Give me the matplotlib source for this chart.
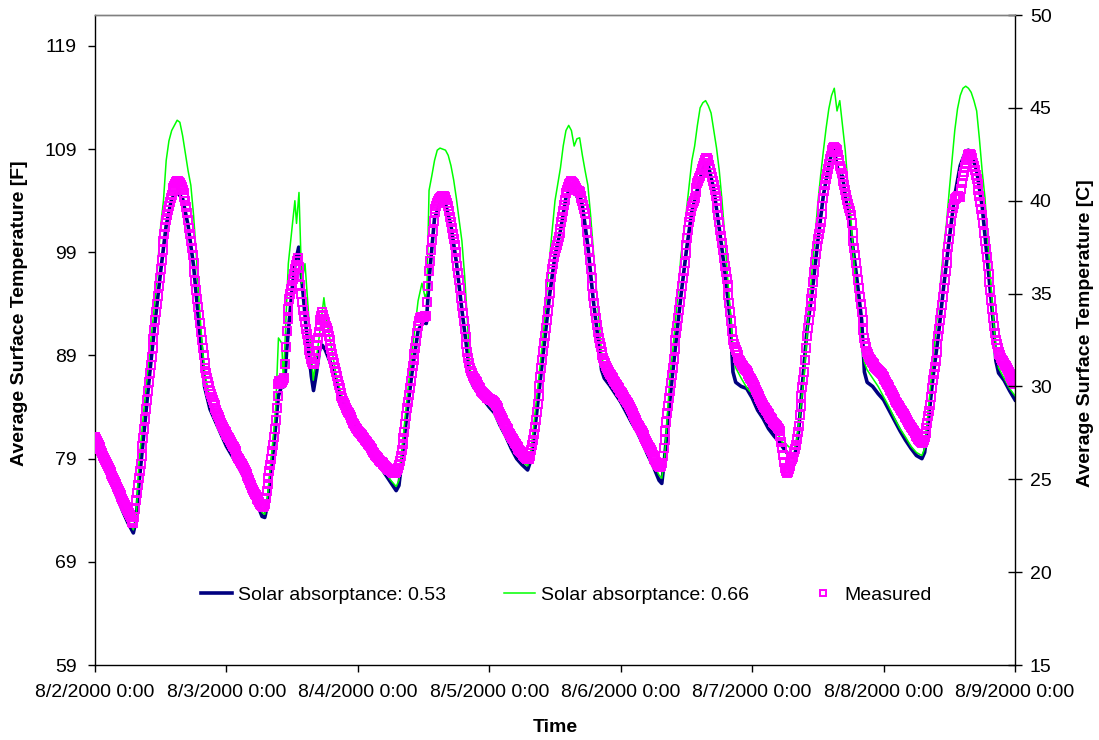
import numpy as np
import matplotlib
matplotlib.use("Agg")
import matplotlib.pyplot as plt

plt.rcParams['font.family'] = ['Liberation Sans', 'DejaVu Sans']

# ---- axis text -------------------------------------------------------------
day_ticks_h = [0, 24, 48, 72, 96, 120, 144, 168]
day_labels = ["8/2/2000 0:00", "8/3/2000 0:00", "8/4/2000 0:00", "8/5/2000 0:00",
              "8/6/2000 0:00", "8/7/2000 0:00", "8/8/2000 0:00", "8/9/2000 0:00"]
f_ticks = [59, 69, 79, 89, 99, 109, 119]
c_ticks = [15, 20, 25, 30, 35, 40, 45, 50]

# ---- measured surface temperature [F], every 10 min from 8/2 0:00 ----------
# (one row = two hours)
measured_d1 = [
    81.1, 80.9, 80.7, 80.5, 80.3, 80.1, 79.9, 79.7, 79.5, 79.3, 79.1, 78.9,
    78.7, 78.5, 78.3, 78.1, 77.9, 77.7, 77.5, 77.3, 77.1, 76.9, 76.7, 76.5,
    76.3, 76.1, 75.9, 75.7, 75.5, 75.3, 75.1, 74.9, 74.7, 74.5, 74.3, 74.1,
    73.9, 73.7, 73.5, 73.3, 73.1, 72.9, 72.8, 73.3, 74.1, 75.0, 75.7, 76.4,
    77.1, 77.8, 78.5, 79.3, 80.2, 81.0, 81.9, 82.8, 83.8, 84.7, 85.6, 86.4,
    87.3, 88.1, 88.9, 89.7, 90.6, 91.5, 92.4, 93.2, 94.0, 94.8, 95.7, 96.5,
    97.4, 98.3, 99.2, 100.1, 100.8, 101.5, 102.1, 102.6, 103.1, 103.5, 103.9, 104.3,
    104.6, 104.9, 105.2, 105.4, 105.6, 105.8, 105.9, 105.9, 105.8, 105.7, 105.5, 105.3,
    105.0, 104.7, 104.4, 104.0, 103.4, 102.8, 102.1, 101.4, 100.8, 100.1, 99.4, 98.7,
    98.0, 97.1, 96.2, 95.3, 94.5, 93.7, 92.9, 92.1, 91.3, 90.5, 89.7, 89.0,
    88.3, 87.8, 87.3, 86.8, 86.4, 86.0, 85.6, 85.3, 85.0, 84.7, 84.4, 84.2,
    83.9, 83.7, 83.4, 83.2, 83.0, 82.7, 82.5, 82.3, 82.1, 81.9, 81.7, 81.6,
]
measured_d2 = [
    81.4, 81.3, 81.1, 81.0, 80.8, 80.6, 80.4, 80.2, 80.1, 79.9, 79.7, 79.5,
    79.3, 79.1, 79.0, 78.8, 78.6, 78.5, 78.3, 78.1, 77.9, 77.7, 77.5, 77.3,
    77.1, 76.9, 76.6, 76.4, 76.2, 76.0, 75.8, 75.6, 75.5, 75.3, 75.1, 75.0,
    74.8, 74.6, 74.5, 74.4, 74.3, 74.4, 74.6, 75.2, 75.9, 76.5, 77.1, 77.8,
    78.4, 79.0, 79.7, 80.3, 81.1, 81.9, 82.7, 83.9, 85.1, 86.2, 86.5, 86.3,
    86.3, 86.4, 86.6, 86.8, 88.2, 89.8, 91.4, 92.5, 93.5, 94.5, 95.0, 95.4,
    95.8, 96.4, 96.9, 97.4, 97.8, 98.2, 98.4, 97.6, 96.7, 95.8, 95.0, 94.2,
    93.4, 92.8, 92.2, 91.6, 91.1, 90.5, 90.0, 89.5, 89.1, 88.7, 88.4, 88.2,
    88.2, 88.8, 89.4, 90.0, 90.7, 91.3, 91.9, 92.4, 92.8, 93.2, 92.9, 92.5,
    92.2, 91.9, 91.7, 91.4, 90.9, 90.5, 90.0, 89.6, 89.1, 88.7, 88.3, 87.8,
    87.4, 87.0, 86.5, 86.1, 85.8, 85.4, 85.1, 84.9, 84.6, 84.4, 84.2, 83.9,
    83.7, 83.5, 83.4, 83.2, 83.0, 82.9, 82.7, 82.5, 82.4, 82.2, 82.0, 81.9,
]
measured_d3 = [
    81.7, 81.6, 81.5, 81.4, 81.3, 81.2, 81.1, 81.0, 80.8, 80.7, 80.6, 80.4,
    80.3, 80.2, 80.0, 79.9, 79.8, 79.6, 79.5, 79.4, 79.3, 79.2, 79.1, 78.9,
    78.8, 78.7, 78.7, 78.6, 78.5, 78.4, 78.3, 78.2, 78.1, 78.0, 77.9, 77.9,
    77.8, 77.7, 77.7, 77.6, 77.6, 77.6, 77.7, 77.9, 78.1, 78.4, 78.8, 79.3,
    79.8, 80.4, 81.0, 81.6, 82.4, 83.1, 83.9, 84.5, 85.2, 85.8, 86.5, 87.3,
    88.0, 88.6, 89.1, 89.7, 90.4, 91.2, 91.9, 92.3, 92.6, 92.7, 92.7, 92.7,
    92.7, 92.7, 92.8, 92.8, 94.2, 95.7, 97.2, 98.2, 99.2, 100.2, 101.1, 102.0,
    102.9, 103.2, 103.5, 103.8, 104.0, 104.2, 104.3, 104.4, 104.5, 104.5, 104.5, 104.4,
    104.3, 104.1, 103.8, 103.5, 103.0, 102.4, 101.9, 101.4, 100.8, 100.3, 99.7, 99.0,
    98.4, 97.7, 97.0, 96.3, 95.5, 94.6, 93.8, 93.1, 92.3, 91.6, 90.8, 90.1,
    89.3, 88.8, 88.3, 87.8, 87.5, 87.3, 87.0, 86.8, 86.7, 86.5, 86.4, 86.2,
    86.1, 85.9, 85.8, 85.6, 85.5, 85.4, 85.3, 85.2, 85.1, 85.0, 84.9, 84.9,
]
measured_d4 = [
    84.8, 84.8, 84.7, 84.7, 84.6, 84.5, 84.4, 84.2, 84.1, 83.9, 83.7, 83.5,
    83.3, 83.1, 82.9, 82.7, 82.5, 82.4, 82.2, 82.0, 81.9, 81.7, 81.5, 81.4,
    81.2, 81.0, 80.9, 80.7, 80.5, 80.4, 80.2, 80.1, 79.9, 79.8, 79.7, 79.6,
    79.5, 79.4, 79.3, 79.2, 79.1, 79.0, 79.0, 79.0, 79.1, 79.3, 79.8, 80.3,
    80.8, 81.4, 82.1, 82.7, 83.5, 84.3, 85.1, 86.0, 86.9, 87.8, 88.6, 89.4,
    90.2, 90.9, 91.7, 92.4, 93.3, 94.2, 95.1, 95.9, 96.6, 97.4, 97.9, 98.5,
    99.0, 99.4, 99.7, 100.1, 100.5, 100.9, 101.3, 101.9, 102.4, 103.0, 103.6, 104.1,
    104.7, 105.0, 105.3, 105.6, 105.7, 105.8, 105.9, 105.8, 105.7, 105.6, 105.4, 105.2,
    105.0, 104.9, 104.9, 104.8, 104.5, 104.3, 104.0, 103.6, 103.2, 102.8, 101.9, 101.0,
    100.1, 99.2, 98.3, 97.4, 96.5, 95.7, 94.8, 94.1, 93.3, 92.6, 92.0, 91.3,
    90.7, 90.2, 89.8, 89.3, 89.0, 88.8, 88.5, 88.3, 88.0, 87.8, 87.6, 87.4,
    87.2, 87.1, 86.9, 86.8, 86.7, 86.5, 86.4, 86.2, 86.1, 85.9, 85.8, 85.6,
]
measured_d5 = [
    85.5, 85.4, 85.2, 85.1, 85.0, 84.8, 84.7, 84.5, 84.4, 84.2, 84.0, 83.8,
    83.6, 83.4, 83.3, 83.1, 82.9, 82.7, 82.5, 82.3, 82.2, 82.0, 81.8, 81.7,
    81.5, 81.3, 81.1, 80.9, 80.7, 80.5, 80.3, 80.1, 80.0, 79.8, 79.6, 79.4,
    79.2, 79.0, 78.9, 78.7, 78.5, 78.4, 78.3, 78.2, 78.3, 78.6, 79.3, 80.0,
    80.8, 81.7, 82.6, 83.4, 84.1, 84.9, 85.6, 86.3, 87.1, 87.8, 88.7, 89.6,
    90.5, 91.2, 91.9, 92.6, 93.4, 94.2, 95.0, 95.7, 96.5, 97.2, 98.0, 98.9,
    99.7, 100.4, 101.2, 101.9, 102.4, 103.0, 103.5, 103.8, 104.0, 104.3, 104.8, 105.2,
    105.7, 105.9, 106.2, 106.4, 106.7, 107.1, 107.4, 107.7, 107.9, 108.1, 108.1, 108.0,
    107.9, 107.5, 107.1, 106.7, 106.3, 105.9, 105.5, 105.0, 104.5, 104.0, 103.3, 102.6,
    101.9, 101.2, 100.6, 99.9, 99.2, 98.4, 97.7, 97.1, 96.4, 95.8, 94.9, 94.1,
    93.2, 92.3, 91.4, 90.5, 90.1, 89.8, 89.5, 89.3, 89.0, 88.8, 88.6, 88.5,
    88.3, 88.1, 88.0, 87.8, 87.7, 87.6, 87.5, 87.3, 87.2, 87.0, 86.8, 86.7,
]
measured_d6 = [
    86.5, 86.3, 86.1, 85.9, 85.7, 85.5, 85.3, 85.1, 85.0, 84.8, 84.6, 84.4,
    84.2, 84.0, 83.9, 83.7, 83.6, 83.4, 83.3, 83.2, 83.0, 82.9, 82.8, 82.6,
    82.5, 82.4, 82.3, 82.2, 82.0, 81.9, 81.7, 81.2, 80.6, 80.0, 79.4, 78.7,
    78.1, 77.8, 77.6, 77.7, 78.0, 78.3, 78.6, 78.8, 79.0, 79.2, 79.6, 79.9,
    80.3, 80.9, 81.6, 82.2, 83.2, 84.1, 85.1, 85.9, 86.6, 87.4, 88.6, 89.7,
    90.9, 91.7, 92.4, 93.2, 93.8, 94.5, 95.1, 96.1, 97.1, 98.1, 98.8, 99.6,
    100.3, 100.8, 101.4, 101.9, 102.7, 103.5, 104.3, 104.9, 105.5, 106.1, 106.6, 107.1,
    107.6, 108.0, 108.3, 108.7, 108.9, 109.1, 109.2, 109.1, 109.0, 108.9, 108.4, 107.9,
    107.4, 107.1, 106.7, 106.4, 105.9, 105.5, 105.0, 104.6, 104.1, 103.7, 103.3, 103.0,
    102.6, 101.8, 100.9, 100.1, 99.4, 98.7, 98.0, 97.2, 96.3, 95.5, 94.7, 94.0,
    93.2, 92.4, 91.5, 90.7, 90.2, 89.8, 89.3, 89.1, 88.9, 88.7, 88.6, 88.4,
    88.3, 88.2, 88.0, 87.9, 87.8, 87.7, 87.6, 87.5, 87.4, 87.3, 87.2, 87.0,
]
measured_d7 = [
    86.9, 86.7, 86.6, 86.4, 86.2, 86.1, 85.9, 85.7, 85.6, 85.4, 85.2, 85.0,
    84.8, 84.7, 84.5, 84.4, 84.2, 84.1, 83.9, 83.7, 83.6, 83.4, 83.3, 83.1,
    83.0, 82.9, 82.7, 82.6, 82.4, 82.3, 82.1, 82.0, 81.8, 81.7, 81.5, 81.4,
    81.2, 81.1, 80.9, 80.8, 80.7, 80.6, 80.5, 80.6, 80.8, 81.1, 81.5, 82.0,
    82.5, 83.1, 83.6, 84.2, 85.0, 85.8, 86.6, 87.2, 87.9, 88.5, 89.3, 90.1,
    90.9, 91.6, 92.4, 93.1, 93.9, 94.7, 95.5, 96.3, 97.2, 98.0, 98.8, 99.5,
    100.3, 101.1, 102.0, 102.8, 103.3, 103.7, 104.2, 104.3, 104.4, 104.5, 104.5, 104.4,
    104.4, 105.1, 105.7, 106.4, 106.8, 107.3, 107.7, 107.9, 108.2, 108.4, 108.5, 108.5,
    108.4, 108.1, 107.7, 107.4, 107.0, 106.5, 106.1, 105.6, 105.0, 104.5, 103.9, 103.2,
    102.6, 101.8, 100.9, 100.1, 99.3, 98.5, 97.7, 96.9, 96.1, 95.3, 94.4, 93.5,
    92.6, 91.9, 91.2, 90.5, 90.1, 89.7, 89.3, 89.1, 89.0, 88.8, 88.6, 88.5,
    88.3, 88.1, 88.0, 87.8, 87.6, 87.4, 87.2, 87.0, 86.8, 86.6, 86.5, 86.3,
    86.2,
]

# ---- simulated surface temperature [F], (hour from 8/2 0:00, value) --------
sim_053 = [
    (0, 80.8), (1, 79.5), (2, 78.1), (3, 76.6), (4, 75.3), (5, 74.0), (6, 72.8), (7, 71.8),
    (7.5, 73.0), (8, 76.4), (9, 81.9), (10, 87.3), (11, 92.4), (12, 97.2), (13, 101.6),
    (14, 104.2), (15, 104.8), (16, 104.2), (17, 101.6), (18, 97.7), (19, 91.9), (19.5, 89.5),
    (20, 86.0), (21, 83.8), (22, 82.6), (23, 81.4), (24, 80.2), (25, 79.3), (26, 78.4),
    (27, 77.4), (28, 76.3), (29, 75.2), (30, 74.1), (30.5, 73.4), (31, 73.3), (31.5, 74.5),
    (32, 76.9), (33, 82.2), (33.5, 85.1), (34, 85.9), (34.6, 86.0), (35, 89.5), (36, 95.5),
    (36.5, 97.8), (37.2, 99.5), (38, 95.0), (38.5, 92.0), (39, 89.5), (39.5, 87.0),
    (39.9, 85.6), (40.5, 87.5), (41, 89.5), (41.5, 90.0), (42, 89.6), (43, 88.3), (44, 86.4),
    (45, 84.7), (46, 83.5), (47, 82.5), (48, 81.6), (49, 80.8), (50, 79.8), (51, 79.0),
    (52, 78.3), (53, 77.5), (54, 76.7), (55, 75.9), (55.5, 76.4), (56, 78.7), (57, 83.5),
    (58, 87.8), (59, 91.4), (59.5, 91.9), (60, 92.2), (60.5, 92.1), (61, 96.3), (62, 102.3),
    (63, 103.7), (63.5, 104.0), (64, 103.7), (65, 101.6), (66, 98.0), (67, 93.4), (68, 89.2),
    (68.5, 86.8), (69, 86.1), (70, 85.3), (71, 84.7), (72, 84.0), (73, 83.4), (74, 82.2),
    (75, 81.2), (76, 80.0), (77, 79.0), (78, 78.4), (79, 77.9), (79.5, 78.7), (80, 80.3),
    (81, 85.1), (82, 89.9), (83, 94.8), (84, 98.7), (85, 101.1), (86, 104.3), (87, 105.5),
    (87.5, 105.2), (88, 104.4), (88.5, 104.7), (89, 103.5), (90, 99.6), (91, 94.3),
    (92, 90.0), (92.5, 87.6), (93, 86.8), (94, 86.1), (95, 85.3), (96, 84.5), (97, 83.5),
    (98, 82.5), (99, 81.6), (100, 80.5), (101, 79.3), (102, 78.2), (103, 76.9), (103.5, 76.6),
    (104, 79.0), (105, 84.8), (106, 89.9), (107, 94.8), (108, 99.2), (109, 103.0),
    (110, 105.1), (111, 107.1), (111.5, 107.6), (112, 107.4), (113, 105.1), (114, 101.3),
    (115, 97.2), (116, 92.4), (116.5, 87.4), (117, 86.4), (118, 86.0), (119, 85.8),
    (120, 84.9), (121, 83.7), (122, 82.9), (123, 81.9), (124, 81.2), (125, 80.6), (126, 79.8),
    (127, 79.2), (127.5, 79.1), (128, 79.8), (128.5, 81.7), (129, 85.1), (130, 91.4),
    (131, 95.3), (132, 100.1), (133, 104.5), (134, 107.4), (134.5, 108.6), (135, 108.9),
    (135.5, 107.4), (136, 106.1), (136.5, 106.4), (137, 104.5), (138, 101.1), (139, 97.0),
    (140, 92.4), (140.5, 87.4), (141, 86.4), (142, 86.0), (143, 85.3), (144, 84.7),
    (145, 83.7), (146, 82.7), (147, 81.7), (148, 80.8), (149, 80.0), (150, 79.3), (151, 79.0),
    (151.5, 79.6), (152, 81.7), (153, 86.8), (154, 90.9), (155, 95.8), (156, 100.3),
    (157, 104.5), (158, 107.4), (159, 108.8), (159.5, 108.9), (160, 108.6), (161, 106.9),
    (162, 103.5), (163, 98.0), (164, 92.4), (164.5, 88.5), (165, 87.3), (166, 86.6),
    (167, 85.6), (168, 84.7),
]

sim_066 = [
    (0, 81.0), (1, 79.6), (2, 78.3), (3, 76.8), (4, 75.5), (5, 74.2), (6, 73.1), (7, 72.1),
    (7.5, 73.2), (8, 78.4), (9, 84.2), (10, 89.5), (11, 94.6), (12, 101.6), (12.5, 104.0),
    (13, 107.9), (13.5, 109.8), (14, 110.8), (14.5, 111.3), (15, 111.8), (15.5, 111.6),
    (16, 110.3), (16.5, 108.6), (17, 106.9), (17.5, 105.5), (18, 102.6), (18.5, 98.7),
    (19, 94.3), (19.5, 90.5), (20, 87.4), (21, 84.8), (22, 83.1), (23, 81.7), (24, 80.8),
    (25, 79.8), (26, 78.8), (27, 77.9), (28, 76.8), (29, 75.7), (30, 74.5), (30.5, 73.8),
    (31, 73.6), (31.5, 75.3), (32, 78.0), (32.5, 80.8), (33, 84.0), (33.5, 90.7),
    (34.1, 90.2), (34.4, 86.6), (35.3, 97.9), (36.5, 104.0), (36.8, 101.8), (37.25, 104.8),
    (37.75, 96.0), (38.35, 97.9), (38.95, 93.4), (39.85, 86.6), (40.8, 90.2), (41.8, 94.6),
    (42.3, 92.4), (43.5, 88.8), (44, 87.2), (45, 85.2), (46, 84.0), (47, 83.0), (48, 82.0),
    (49, 81.1), (50, 80.1), (51, 79.2), (52, 78.5), (53, 77.7), (54, 76.9), (55, 76.3),
    (55.5, 76.9), (56, 79.5), (57, 85.0), (58, 89.8), (59, 94.3), (59.7, 96.0), (60.3, 94.6),
    (60.6, 95.1), (61, 105.0), (61.5, 106.4), (62, 107.9), (62.5, 108.9), (63, 109.1),
    (63.5, 109.0), (64, 108.9), (64.5, 108.4), (65, 107.4), (65.5, 106.0), (66, 104.2),
    (66.5, 102.1), (67, 100.1), (67.5, 96.7), (68, 92.4), (68.5, 87.6), (69, 86.6),
    (70, 85.6), (71, 84.8), (72, 84.1), (73, 83.5), (74, 82.5), (75, 81.5), (76, 80.3),
    (77, 79.3), (78, 78.7), (79, 78.3), (79.5, 79.1), (80, 81.7), (81, 86.6), (82, 91.9),
    (83, 98.4), (84, 104.0), (85, 107.2), (85.5, 109.3), (86, 110.8), (86.5, 111.3),
    (87, 110.8), (87.5, 109.3), (88, 110.0), (88.5, 110.1), (89, 108.4), (89.5, 106.9),
    (90, 105.5), (90.5, 102.6), (91, 99.2), (91.5, 95.8), (92, 92.7), (92.5, 89.3),
    (93, 87.4), (94, 86.6), (95, 85.6), (96, 84.8), (97, 83.9), (98, 82.9), (99, 81.9),
    (100, 80.8), (101, 79.6), (102, 78.5), (103, 77.4), (103.5, 77.1), (104, 79.0),
    (105, 87.1), (105.5, 89.5), (106, 92.4), (106.5, 95.3), (107, 98.7), (107.5, 100.6),
    (108, 103.1), (108.5, 105.5), (109, 107.9), (109.5, 109.3), (110, 111.3), (110.5, 113.0),
    (111, 113.5), (111.5, 113.7), (112, 113.2), (112.5, 112.5), (113, 110.8), (113.5, 109.1),
    (114, 106.9), (114.5, 104.0), (115, 100.6), (115.5, 96.7), (116, 93.4), (116.5, 89.5),
    (117, 87.8), (118, 86.8), (119, 85.9), (120, 85.3), (121, 84.3), (122, 83.4), (123, 82.6),
    (124, 81.9), (125, 81.1), (125.5, 80.6), (126, 80.5), (127, 80.0), (127.5, 79.9),
    (128, 80.3), (128.5, 82.2), (129, 84.7), (129.5, 87.1), (130, 90.9), (130.5, 94.3),
    (131, 97.7), (131.5, 100.6), (132, 103.8), (132.5, 106.4), (133, 108.8), (133.5, 111.0),
    (134, 112.9), (134.5, 114.2), (135, 114.9), (135.5, 112.7), (136, 113.7), (136.5, 111.3),
    (137, 108.9), (137.5, 105.5), (138, 102.6), (138.5, 98.7), (139, 95.1), (139.5, 92.6),
    (140, 89.8), (140.5, 88.3), (141, 87.6), (142, 86.8), (143, 86.0), (144, 85.0),
    (145, 84.0), (146, 82.9), (147, 81.9), (148, 81.1), (149, 80.2), (150, 79.6), (151, 79.3),
    (151.5, 80.0), (152, 82.7), (153, 88.5), (154, 93.8), (155, 99.6), (155.5, 101.9),
    (156, 105.0), (156.5, 107.9), (157, 110.8), (157.5, 112.9), (158, 114.2), (158.5, 114.9),
    (159, 115.1), (159.5, 114.9), (160, 114.5), (160.5, 113.7), (161, 112.7), (161.5, 110.0),
    (162, 106.9), (162.5, 104.4), (163, 100.6), (163.5, 96.7), (164, 92.9), (164.5, 89.5),
    (165, 87.8), (166, 86.8), (167, 85.8), (168, 85.1),
]

measured_f = (measured_d1 + measured_d2 + measured_d3 + measured_d4 +
              measured_d5 + measured_d6 + measured_d7)
measured_h = np.arange(len(measured_f)) / 6.0
h053, f053 = np.array(sim_053).T
h066, f066 = np.array(sim_066).T

# ---- figure ----------------------------------------------------------------
W, H = 1099, 740
fig = plt.figure(figsize=(W / 100, H / 100), dpi=100)
ax = fig.add_axes([95 / W, 75 / H, 920 / W, 650 / H])

ax.plot(h053, f053, color='#000080', lw=2.6, solid_joinstyle='round',
        label='Solar absorptance: 0.53', zorder=2)
ax.plot(h066, f066, color='#00FF00', lw=1.1, label='Solar absorptance: 0.66', zorder=3)
ax.plot(measured_h, measured_f, ls='none', marker='s', ms=5.2, mfc='none',
        mec='#FF00FF', mew=1.4, label='Measured', zorder=4)

ax.set_xlim(0, 168)
ax.set_ylim(59, 122)
ax.set_xticks(day_ticks_h)
ax.set_xticklabels(day_labels)
ax.set_yticks(f_ticks)

ax2 = ax.twinx()
ax2.set_ylim(15, 50)
ax2.set_yticks(c_ticks)

for a in (ax, ax2):
    for s in a.spines.values():
        s.set_linewidth(1.0)
        s.set_color('black')
ax.spines['top'].set_color('#808080')
ax2.spines['top'].set_color('#808080')
ax.spines['right'].set_visible(False)
ax2.spines['left'].set_visible(False)
ax2.spines['bottom'].set_visible(False)

ax.tick_params(axis='y', direction='out', length=5, width=1, labelsize=14, pad=8)
ax.tick_params(axis='x', direction='out', length=5, width=1, labelsize=14, pad=9)
ax2.tick_params(axis='y', direction='inout', length=9.5, width=1, labelsize=14, pad=6)

fig.text(20 / W, 1 - 313 / H, 'Average Surface Temperature [F]', rotation=90,
         ha='center', va='center', fontsize=14, fontweight='bold')
fig.text(1085 / W, 1 - 333 / H, 'Average Surface Temperature [C]', rotation=90,
         ha='center', va='center', fontsize=14, fontweight='bold')
fig.text(555 / W, 1 - 728 / H, 'Time', ha='center', va='center',
         fontsize=14, fontweight='bold')

ax.legend(loc='center', bbox_to_anchor=(0.512, 0.108), ncol=3, frameon=False,
          fontsize=14, handlelength=1.6, handletextpad=0.3, columnspacing=3.0,
          numpoints=1, markerscale=0.7)

fig.savefig('out.png', dpi=100)
